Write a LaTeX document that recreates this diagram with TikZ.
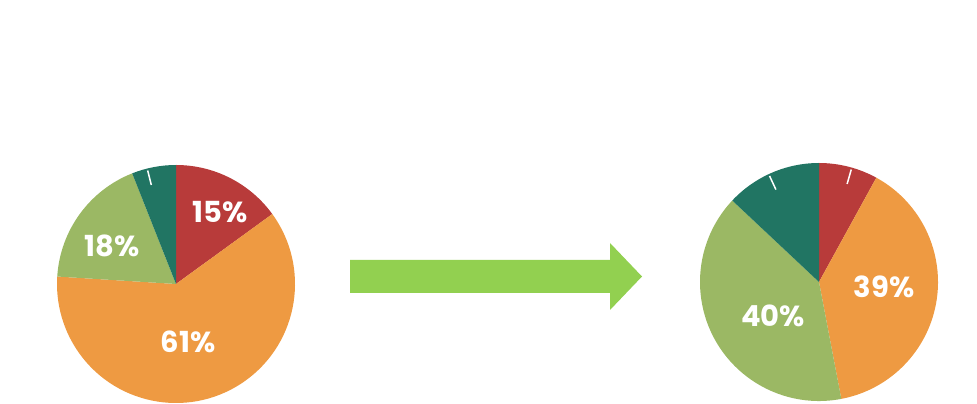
\documentclass[tikz,border=0pt]{standalone}
\usepackage{fontspec}
\setmainfont{Poppins}
\usepackage{tikz}
\usetikzlibrary{calc}
\definecolor{sliceRed}{HTML}{B83B3A}
\definecolor{sliceOrange}{HTML}{EE9A42}
\definecolor{sliceGreen}{HTML}{9BB864}
\definecolor{sliceTeal}{HTML}{217563}
\definecolor{arrowGreen}{HTML}{92D050}
\newcommand{\pieslice}[4]{\fill[#4] (#1) -- ++(#2:119) arc[start angle=#2, end angle=#3, radius=119] -- cycle;}
\newcommand{\pietick}[2]{\draw[white, line width=1.5pt] ($(#1)+(#2:102)$) -- ($(#1)+(#2:117)$);}

\begin{document}
\begin{tikzpicture}[x=1pt, y=1pt, pielabel/.style={text=white, font=\fontsize{29}{29}\selectfont\bfseries, inner sep=0pt}]
\useasboundingbox (0,0) rectangle (977,404);
\coordinate (leftpie) at (176,120);
\coordinate (rightpie) at (819,122);

\pieslice{leftpie}{90}{36}{sliceRed}
\pieslice{leftpie}{36}{-183.6}{sliceOrange}
\pieslice{leftpie}{176.4}{111.6}{sliceGreen}
\pieslice{leftpie}{111.6}{90}{sliceTeal}
\pietick{leftpie}{104}

\pieslice{rightpie}{90}{61.2}{sliceRed}
\pieslice{rightpie}{61.2}{-79.2}{sliceOrange}
\pieslice{rightpie}{-79.2}{-223.2}{sliceGreen}
\pieslice{rightpie}{136.8}{90}{sliceTeal}
\pietick{rightpie}{74}
\pietick{rightpie}{115}

\node[pielabel] (l15) at (220,192) {15\%};
\node[pielabel] (l18) at (112,158) {18\%};
\node[pielabel] (l61) at (188,62) {61\%};
\node[pielabel] (r39) at (884,117) {39\%};
\node[pielabel] (r40) at (773,88) {40\%};

\fill[arrowGreen] (350,111) -- (610,111) -- (610,94) -- (642,127.5) -- (610,161) -- (610,144) -- (350,144) -- cycle;
\end{tikzpicture}
\end{document}
